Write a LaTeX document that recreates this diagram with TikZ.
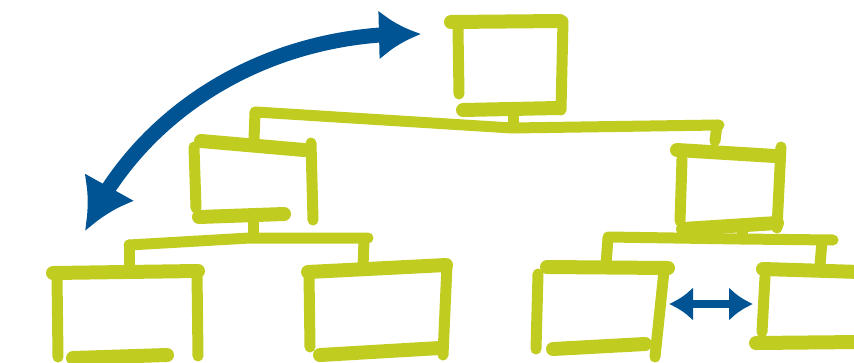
\documentclass[tikz,border=0pt]{standalone}
\usepackage{xcolor}
\definecolor{sketchgreen}{RGB}{193,204,32}
\definecolor{sketchblue}{RGB}{0,84,148}
\usetikzlibrary{arrows.meta,bending}

\tikzset{
  stroke/.style={sketchgreen,line width=11pt,line cap=round},
  thick stroke/.style={stroke,line width=14pt},
  link/.style={sketchblue,line width=#1,line cap=round},
}

\begin{document}
\begin{tikzpicture}[x=1pt,y=-1pt]
  \useasboundingbox (0,0) rectangle (854,362);
  % top box
  \draw[thick stroke] (451,22) -- (560,21);
  \draw[stroke] (458,29) -- (459,94);
  \draw[stroke] (563,21) -- (561,110);
  \draw[thick stroke] (463,110) -- (558,108);
  \draw[stroke] (513,112) -- (513,125);
  % first branch line
  \draw[stroke] (256,112) -- (512,128) -- (719,125);
  \draw[stroke] (255,112) -- (254,140);
  \draw[stroke] (717,125) -- (715,141);
  % left middle box
  \draw[thick stroke] (201,141) -- (304,150);
  \draw[stroke] (194,147) -- (196,208);
  \draw[stroke] (311,143) -- (313,220);
  \draw[thick stroke] (199,217) -- (284,214);
  \draw[stroke] (253,218) -- (253,237);
  % left lower branch line
  \draw[stroke] (129,245) -- (250,238) -- (368,238);
  \draw[stroke] (129,245) -- (129,267);
  \draw[stroke] (364,240) -- (363,267);
  % bottom box 1
  \draw[thick stroke] (53,273) -- (198,271);
  \draw[stroke] (57,276) -- (58,357);
  \draw[stroke] (197,272) -- (198,356);
  \draw[thick stroke] (73,358) -- (167,355);
  % bottom box 2
  \draw[thick stroke] (308,272) -- (446,265);
  \draw[stroke] (309,274) -- (310,347);
  \draw[stroke] (447,265) -- (443,355);
  \draw[thick stroke] (320,355) -- (440,348);
  % right middle box
  \draw[thick stroke] (677,150) -- (775,156);
  \draw[stroke] (682,159) -- (680,221);
  \draw[stroke] (781,147) -- (777,228);
  \draw[thick stroke] (683,229) -- (777,223);
  \draw[stroke] (742,229) -- (742,238);
  % right lower branch line
  \draw[stroke] (608,237) -- (740,239) -- (833,240);
  \draw[stroke] (608,238) -- (606,265);
  \draw[stroke] (822,241) -- (820,265);
  % bottom box 3
  \draw[thick stroke] (547,267) -- (668,268);
  \draw[stroke] (538,274) -- (536,349);
  \draw[stroke] (664,271) -- (655,357);
  \draw[thick stroke] (553,349) -- (645,344);
  % bottom box 4 (cut off)
  \draw[thick stroke] (763,269) -- (860,272);
  \draw[stroke] (765,277) -- (762,332);
  \draw[thick stroke] (756,343) -- (860,342);
  % arrows
  \coordinate (topTip) at (421,34);
  \coordinate (leftTip) at (85,231);
  \coordinate (pairL) at (669,304);
  \coordinate (pairR) at (753,304);
  \draw[link=15pt,{Latex[length=50pt,width=58pt]}-{Latex[length=42pt,width=50pt]}]
    (leftTip) .. controls (140,110) and (270,30) .. (topTip);
  \draw[link=8pt,{Latex[length=24pt,width=34pt]}-{Latex[length=24pt,width=34pt]}]
    (pairL) -- (pairR);
\end{tikzpicture}
\end{document}
